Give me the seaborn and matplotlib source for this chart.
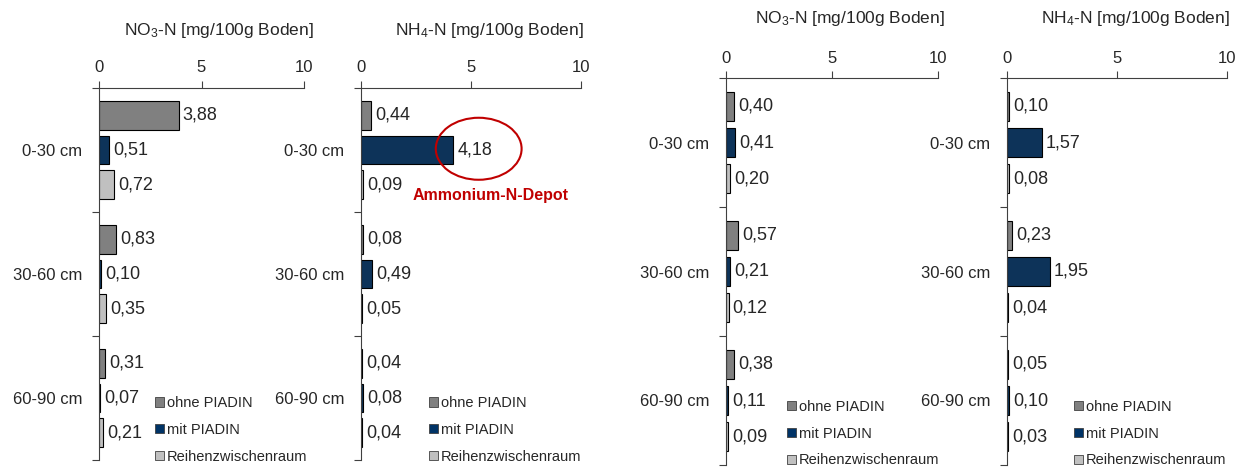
import matplotlib
matplotlib.use('Agg')
import matplotlib.pyplot as plt
import pandas as pd
import seaborn as sns
from matplotlib.patches import Ellipse, Patch

# Tiefenstufen und Varianten
tiefen = ['0-30 cm', '30-60 cm', '60-90 cm']
varianten = ['ohne PIADIN', 'mit PIADIN', 'Reihenzwischenraum']
farben = {'ohne PIADIN': '#808080', 'mit PIADIN': '#003366', 'Reihenzwischenraum': '#C0C0C0'}

# Linke Grafik
no3_links_ohne = [3.88, 0.83, 0.31]
no3_links_mit = [0.51, 0.10, 0.07]
no3_links_reihe = [0.72, 0.35, 0.21]
nh4_links_ohne = [0.44, 0.08, 0.04]
nh4_links_mit = [4.18, 0.49, 0.08]
nh4_links_reihe = [0.09, 0.05, 0.04]

# Rechte Grafik
no3_rechts_ohne = [0.40, 0.57, 0.38]
no3_rechts_mit = [0.41, 0.21, 0.11]
no3_rechts_reihe = [0.20, 0.12, 0.09]
nh4_rechts_ohne = [0.10, 0.23, 0.05]
nh4_rechts_mit = [1.57, 1.95, 0.10]
nh4_rechts_reihe = [0.08, 0.04, 0.03]

x_ticks = [0, 5, 10]

sns.set_style('white')
plt.rcParams['font.family'] = ['Liberation Sans', 'DejaVu Sans']
plt.rcParams['mathtext.fontset'] = 'custom'
plt.rcParams['mathtext.rm'] = 'Liberation Sans'
plt.rcParams['mathtext.it'] = 'Liberation Sans'


def make_df(ohne, mit, reihe):
    rows = []
    for name, werte in zip(varianten, [ohne, mit, reihe]):
        for t, w in zip(tiefen, werte):
            rows.append({'Tiefe': t, 'Variante': name, 'Wert': w})
    return pd.DataFrame(rows)


def draw_panel(ax, df, titel, legend_pos):
    sns.barplot(data=df, y='Tiefe', x='Wert', hue='Variante', order=tiefen,
                hue_order=varianten, palette=farben, orient='h', width=0.84,
                gap=0.18, edgecolor='black', linewidth=0.8, ax=ax, legend=False)
    for cont in ax.containers:
        labels = [f'{b.get_width():.2f}'.replace('.', ',') for b in cont]
        ax.bar_label(cont, labels=labels, padding=3, fontsize=13)
    ax.set_xlim(0, 10)
    ax.set_ylim(2.5, -0.5)
    ax.set_xlabel('')
    ax.set_ylabel('')
    ax.xaxis.tick_top()
    ax.set_xticks(x_ticks)
    ax.tick_params(axis='x', direction='out', length=5, width=0.8, color='#404040',
                   labelsize=12, pad=4)
    # Gruppengrenzen als Ticks, Beschriftung in der Mitte
    ax.set_yticks([-0.5, 0.5, 1.5, 2.5])
    ax.set_yticklabels([])
    ax.set_yticks([0, 1, 2], minor=True)
    ax.set_yticklabels(tiefen, minor=True, fontsize=12)
    ax.tick_params(axis='y', which='major', direction='out', length=5, width=0.8,
                   color='#404040', left=True)
    ax.tick_params(axis='y', which='minor', length=0, pad=12)
    for s in ['right', 'bottom']:
        ax.spines[s].set_visible(False)
    for s in ['top', 'left']:
        ax.spines[s].set_color('#404040')
        ax.spines[s].set_linewidth(0.8)
    ax.text(0.585, 1.0 + 57 / 372, titel, transform=ax.transAxes, ha='center',
            va='center', fontsize=12.5)
    handles = [Patch(facecolor=farben[v], edgecolor='#404040', linewidth=0.6) for v in varianten]
    ax.legend(handles, varianten, loc='center left', bbox_to_anchor=legend_pos,
              frameon=False, fontsize=10.5, handlelength=0.6, handleheight=0.6,
              handletextpad=0.2, labelspacing=0.87, borderaxespad=0, borderpad=0)


fig = plt.figure(figsize=(12.49, 4.68), dpi=100)
ax1 = fig.add_axes([99 / 1249, 8 / 468, 205 / 1249, 372 / 468])
ax2 = fig.add_axes([361 / 1249, 8 / 468, 220 / 1249, 372 / 468])
ax3 = fig.add_axes([726 / 1249, 3 / 468, 212 / 1249, 387 / 468])
ax4 = fig.add_axes([1007 / 1249, 3 / 468, 220 / 1249, 387 / 468])

draw_panel(ax1, make_df(no3_links_ohne, no3_links_mit, no3_links_reihe),
           'NO$_3$-N [mg/100g Boden]', (0.275, 0.081))
draw_panel(ax2, make_df(nh4_links_ohne, nh4_links_mit, nh4_links_reihe),
           'NH$_4$-N [mg/100g Boden]', (0.31, 0.081))
draw_panel(ax3, make_df(no3_rechts_ohne, no3_rechts_mit, no3_rechts_reihe),
           'NO$_3$-N [mg/100g Boden]', (0.29, 0.081))
draw_panel(ax4, make_df(nh4_rechts_ohne, nh4_rechts_mit, nh4_rechts_reihe),
           'NH$_4$-N [mg/100g Boden]', (0.305, 0.081))

# Markierung Ammonium-Depot
ax2.add_patch(Ellipse((5.35, -0.01), 3.9, 0.5, fill=False, edgecolor='#C00000',
                      linewidth=1.5, clip_on=False))
ax2.text(5.88, 0.37, 'Ammonium-N-Depot', color='#C00000', fontsize=11.5,
         fontweight='bold', ha='center', va='center')

fig.savefig('out.png', dpi=100, facecolor='white')
